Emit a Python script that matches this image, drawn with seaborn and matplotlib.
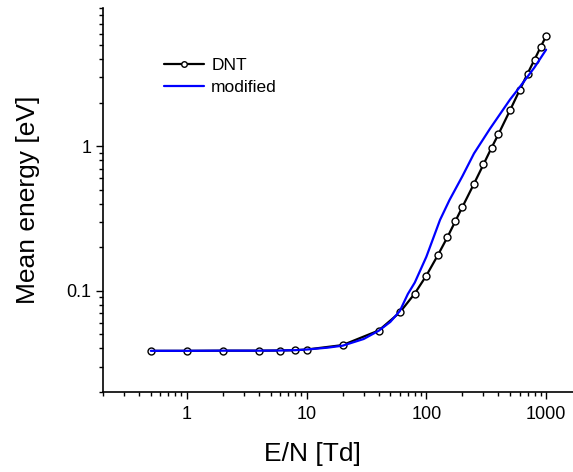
import numpy as np
import pandas as pd
import seaborn as sns
import matplotlib
matplotlib.use('Agg')
import matplotlib.pyplot as plt
from matplotlib.ticker import LogLocator, FixedLocator, NullFormatter

# DNT data (E/N in Td, mean energy in eV)
dnt_en = [0.5, 1, 2, 4, 6, 8, 10, 20, 40, 60, 80, 100, 125, 150, 175, 200,
          250, 300, 350, 400, 500, 600, 700, 800, 900, 1000]
dnt_energy = [0.0385, 0.0385, 0.0386, 0.0386, 0.0387, 0.0389, 0.0393, 0.0422,
              0.0532, 0.0709, 0.0958, 0.1275, 0.177, 0.235, 0.304, 0.38,
              0.55, 0.748, 0.973, 1.21, 1.77, 2.43, 3.17, 3.96, 4.84, 5.76]

# modified cross sections
mod_en = [0.5, 1, 2, 4, 6, 8, 10, 15, 20, 30, 40, 50, 60, 70, 80, 100, 130,
          156, 200, 250, 340, 500, 600, 800, 1000]
mod_energy = [0.0385, 0.0385, 0.0386, 0.0386, 0.0387, 0.0389, 0.0393, 0.0405,
              0.0418, 0.0465, 0.053, 0.061, 0.0725, 0.095, 0.114, 0.172, 0.309,
              0.424, 0.62, 0.89, 1.32, 2.1, 2.55, 3.5, 4.64]

dnt = pd.DataFrame({'en': dnt_en, 'energy': dnt_energy})
mod = pd.DataFrame({'en': mod_en, 'energy': mod_energy})

sns.set_style('ticks')
plt.rcParams['font.family'] = ['Liberation Sans', 'DejaVu Sans']
plt.rcParams['text.color'] = 'black'
plt.rcParams['axes.labelcolor'] = 'black'

fig = plt.figure(figsize=(5.73, 4.72), dpi=100)
ax = fig.add_axes([0.18, 0.1695, 0.836, 0.8135])

sns.lineplot(data=dnt, x='en', y='energy', ax=ax, color='black', linewidth=1.6,
             marker='o', markersize=5, markerfacecolor='white',
             markeredgecolor='black', markeredgewidth=1.0, label='DNT')
sns.lineplot(data=mod, x='en', y='energy', ax=ax, color='#0000ff',
             linewidth=1.6, label='modified')

ax.set_xscale('log')
ax.set_yscale('log')
ax.set_xlim(0.2, 2000)
ax.set_ylim(0.02, 9)

ax.xaxis.set_major_locator(FixedLocator([1, 10, 100, 1000]))
ax.set_xticklabels(['1', '10', '100', '1000'])
ax.xaxis.set_minor_locator(LogLocator(base=10, subs=np.arange(2, 10)))
ax.xaxis.set_minor_formatter(NullFormatter())
ax.yaxis.set_major_locator(FixedLocator([0.1, 1]))
ax.set_yticklabels(['0.1', '1'])
ax.yaxis.set_minor_locator(LogLocator(base=10, subs=np.arange(2, 10)))
ax.yaxis.set_minor_formatter(NullFormatter())

ax.tick_params(which='major', direction='out', length=5, width=1,
               labelsize=13, colors='black')
ax.tick_params(axis='x', which='major', pad=5)
ax.tick_params(which='minor', direction='out', length=3, width=1,
               colors='black')

for side in ['top', 'right']:
    ax.spines[side].set_visible(False)
for side in ['left', 'bottom']:
    ax.spines[side].set_linewidth(1.2)
    ax.spines[side].set_color('black')

ax.set_xlabel('E/N [Td]', fontsize=19)
ax.xaxis.set_label_coords(0.436, -0.13)
ax.set_ylabel('Mean energy [eV]', fontsize=19, labelpad=19)

ax.legend(loc='upper left', bbox_to_anchor=(0.095, 0.91), frameon=False,
          fontsize=12.5, handlelength=2.3, handletextpad=0.4,
          labelspacing=0.4, markerscale=0.8)

fig.savefig('out.png', dpi=100)
